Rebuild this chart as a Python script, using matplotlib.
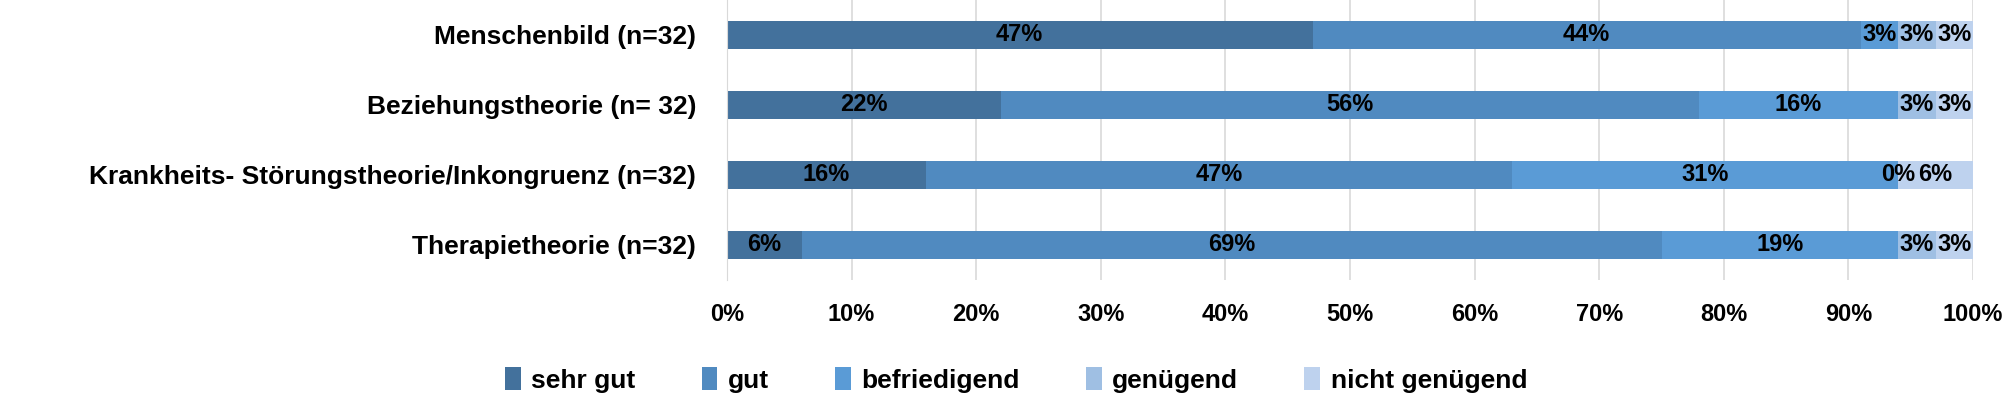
import matplotlib
matplotlib.use("Agg")
import matplotlib.pyplot as plt
import numpy as np

plt.rcParams['font.family'] = ['Liberation Sans', 'DejaVu Sans']
plt.rcParams['font.weight'] = 'bold'

categories = ["Menschenbild (n=32)",
              "Beziehungstheorie (n= 32)",
              "Krankheits- Störungstheorie/Inkongruenz (n=32)",
              "Therapietheorie (n=32)"]
series = ["sehr gut", "gut", "befriedigend", "genügend", "nicht genügend"]
sehr_gut = [47, 22, 16, 6]
gut = [44, 56, 47, 69]
befriedigend = [3, 16, 31, 19]
genuegend = [3, 3, 0, 3]
nicht_genuegend = [3, 3, 6, 3]
colors = ["#43719c", "#508ac0", "#5a9bd6", "#9fbfe3", "#bed2ee"]

values = np.array([sehr_gut, gut, befriedigend, genuegend, nicht_genuegend], dtype=float)

fig = plt.figure(figsize=(20.08, 3.97), dpi=100)
ax = fig.add_axes([0.362, 0.295, 0.6206, 0.705])

y = np.arange(len(categories))
left = np.zeros(len(categories))
for vals, name, col in zip(values, series, colors):
    bars = ax.barh(y, vals, left=left, height=0.4, color=col, label=name, zorder=2)
    for b, v in zip(bars, vals):
        ax.text(b.get_x() + b.get_width() / 2, b.get_y() + b.get_height() / 2,
                f"{v:.0f}%", ha='center', va='center', fontsize=17, color='black',
                fontweight='bold', zorder=3)
    left += vals

ax.set_xlim(0, 100)
ax.set_ylim(len(categories) - 0.5, -0.5)
ax.set_yticks(y)
ax.set_yticklabels(categories, fontsize=19)
ax.set_xticks(np.arange(0, 101, 10))
ax.set_xticklabels([f"{t}%" for t in range(0, 101, 10)], fontsize=17)
ax.tick_params(axis='both', length=0)
ax.tick_params(axis='x', pad=17)
ax.tick_params(axis='y', pad=22)
ax.grid(axis='x', color='#d9d9d9', linewidth=1.2, zorder=0)
for s in ['top', 'right', 'bottom']:
    ax.spines[s].set_visible(False)
ax.spines['left'].set_color('#d9d9d9')

ax.legend(loc='center', bbox_to_anchor=(0.232, -0.357), ncol=5, frameon=False,
          fontsize=19, handlelength=0.6, handleheight=1.0, handletextpad=0.4,
          columnspacing=2.5)

fig.savefig("out.png", dpi=100)
